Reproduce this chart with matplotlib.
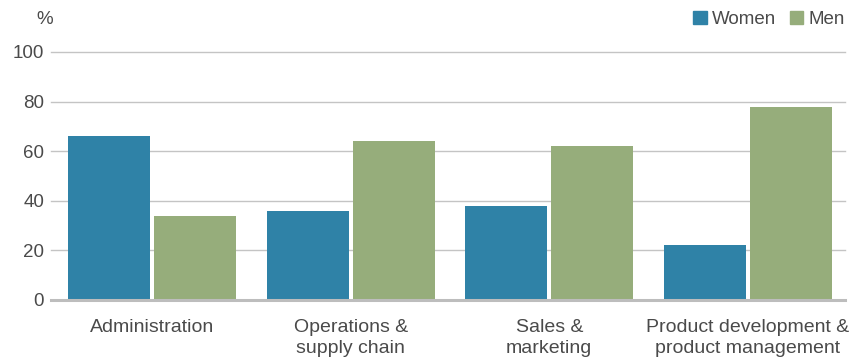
import matplotlib
matplotlib.use("Agg")
import matplotlib.pyplot as plt
from matplotlib.patches import Patch
import numpy as np

categories = ["Administration", "Operations &\nsupply chain", "Sales &\nmarketing",
              "Product development &\nproduct management"]
women = [66, 36, 38, 22]
men = [34, 64, 62, 78]
series_names = ["Women", "Men"]
yticks = [0, 20, 40, 60, 80, 100]

blue = "#2f82a7"
green = "#96ad7b"
text_col = "#4a4a4a"

plt.rcParams["font.family"] = ["Liberation Sans", "DejaVu Sans"]

fig = plt.figure(figsize=(8.62, 3.61), dpi=100)
ax = fig.add_axes([0.0592, 0.169, 0.9211, 0.687])

x = np.arange(len(categories))
w = 0.413
off = 0.2166
ax.bar(x - off, women, width=w, color=blue, zorder=3)
ax.bar(x + off, men, width=w, color=green, zorder=3)

ax.set_xlim(-0.51, 3.49)
ax.set_ylim(0, 100)
for s in ax.spines.values():
    s.set_visible(False)

for t in yticks[1:]:
    ax.axhline(t, color="#c4c4c4", lw=1.0, zorder=1, clip_on=False)
ax.axhline(0, color="#bdbdbd", lw=2.2, zorder=4, clip_on=False)

ax.set_yticks(yticks)
ax.set_yticklabels([str(t) for t in yticks], fontsize=13.5, color=text_col)
ax.tick_params(axis="y", length=0, pad=5)
ax.set_xticks(x)
ax.set_xticklabels(categories, fontsize=14, color=text_col, linespacing=1.3)
ax.tick_params(axis="x", length=0, pad=14)

fig.text(0.061, 0.945, "%", fontsize=13.5, color=text_col, ha="right", va="center")

handles = [Patch(color=blue), Patch(color=green)]
leg = fig.legend(handles, series_names, loc="upper right", bbox_to_anchor=(0.993, 1.0),
                 ncol=2, frameon=False, fontsize=13.5, handlelength=0.7, handleheight=0.7,
                 handletextpad=0.3, columnspacing=0.7, borderaxespad=0.2)
for t in leg.get_texts():
    t.set_color(text_col)

fig.savefig("out.png", dpi=100)
